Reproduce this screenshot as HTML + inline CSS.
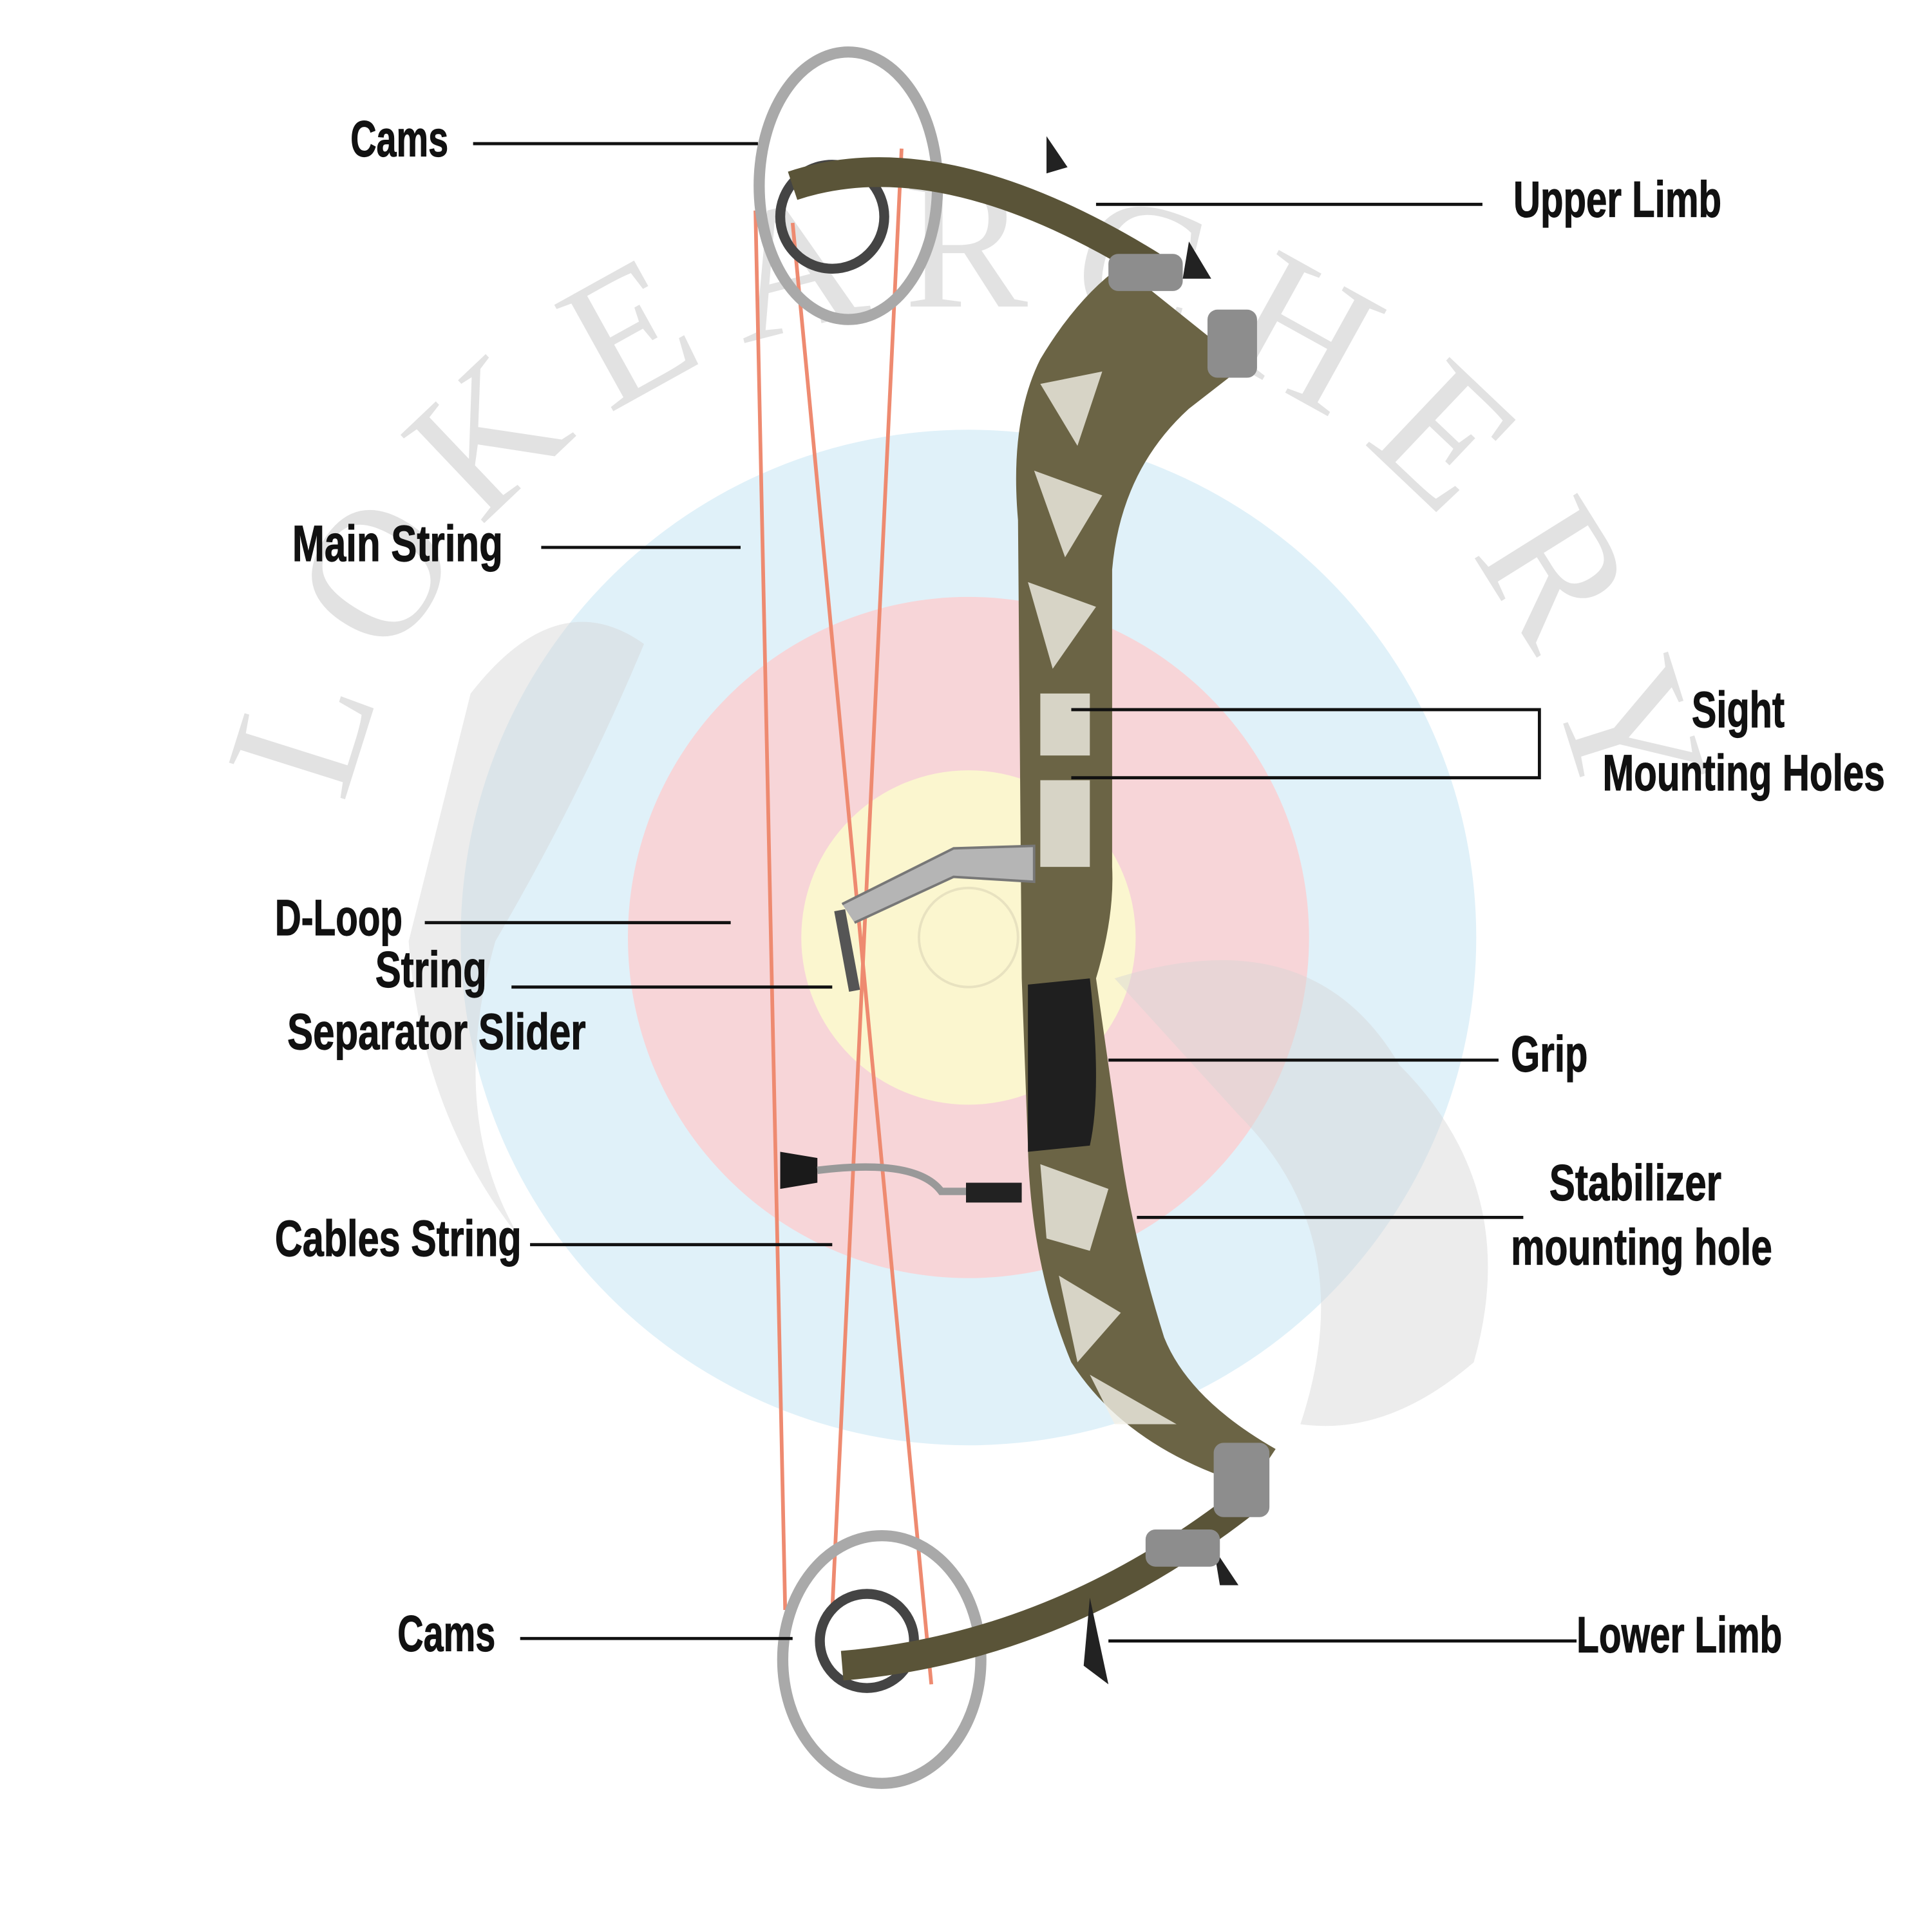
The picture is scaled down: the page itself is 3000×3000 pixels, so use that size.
<!DOCTYPE html>
<html><head><meta charset="utf-8"><style>
html,body{margin:0;padding:0;background:#fff;}
svg{display:block;}
.l{font-family:"Liberation Sans Narrow","Liberation Sans",sans-serif;font-weight:bold;font-size:41px;fill:#111;stroke:#111;stroke-width:0.6;}
.w{font-family:"Liberation Serif",serif;font-size:150px;fill:#dcdcdc;opacity:0.8;text-anchor:middle;}
</style></head><body>
<svg width="3000" height="3000" viewBox="0 0 1560 1560" xmlns="http://www.w3.org/2000/svg">
<rect width="1560" height="1560" fill="#fff"/>
<!-- target -->
<circle cx="782" cy="757" r="410" fill="#e0f1f9"/>
<circle cx="782" cy="757" r="275" fill="#f7d5d8"/>
<circle cx="782" cy="757" r="135" fill="#fbf6cf"/>
<circle cx="782" cy="757" r="40" fill="none" stroke="#e8e2c0" stroke-width="2"/>
<!-- watermark -->
<g class="w">
<text transform="translate(241,590) rotate(-72.5)" dy="0.35em">L</text>
<text transform="translate(301,461) rotate(-58)" dy="0.35em">O</text>
<text transform="translate(391,350) rotate(-43.5)" dy="0.35em">K</text>
<text transform="translate(506,266) rotate(-29)" dy="0.35em">E</text>
<text transform="translate(639,213) rotate(-14.5)" dy="0.35em">A</text>
<text transform="translate(780,195)" dy="0.35em">R</text>
<text transform="translate(921,213) rotate(14.5)" dy="0.35em">C</text>
<text transform="translate(1054,266) rotate(29)" dy="0.35em">H</text>
<text transform="translate(1169,350) rotate(43.5)" dy="0.35em">E</text>
<text transform="translate(1259,461) rotate(58)" dy="0.35em">R</text>
<text transform="translate(1319,590) rotate(72.5)" dy="0.35em">Y</text>
</g>
<path d="M380,560 Q450,470 520,520 Q470,640 400,760 Q360,900 420,1000 Q340,900 330,760Z" fill="#d4d4d4" opacity="0.45"/>
<path d="M900,790 Q1060,740 1130,860 Q1230,960 1190,1100 Q1120,1160 1050,1150 Q1100,1000 1000,900Z" fill="#d4d4d4" opacity="0.45"/>
<!-- strings -->
<g stroke="#ee8a70" stroke-width="3" fill="none">
<line x1="610" y1="170" x2="634" y2="1300"/>
<line x1="640" y1="180" x2="752" y2="1360"/>
<line x1="728" y1="120" x2="672" y2="1300"/>
</g>
<!-- cams -->
<ellipse cx="685" cy="150" rx="72" ry="108" fill="none" stroke="#a9a9a9" stroke-width="9"/>
<circle cx="672" cy="175" r="42" fill="none" stroke="#444" stroke-width="8"/>
<ellipse cx="712" cy="1340" rx="80" ry="100" fill="none" stroke="#a9a9a9" stroke-width="9"/>
<circle cx="700" cy="1325" r="38" fill="none" stroke="#444" stroke-width="8"/>
<!-- limbs -->
<path d="M640,150 Q760,110 930,215" fill="none" stroke="#5a5438" stroke-width="24"/>
<path d="M680,1345 Q860,1330 1015,1205" fill="none" stroke="#5a5438" stroke-width="24"/>
<path d="M845,110 L862,135 L845,140Z M960,195 L978,225 L955,225Z M880,1290 L895,1360 L875,1345Z M980,1250 L1000,1280 L985,1280Z" fill="#222"/>
<!-- riser -->
<path d="M905,215 Q870,240 840,290 Q815,340 822,420 L825,790 L830,925 Q832,1020 865,1100 Q910,1170 1010,1200 L1030,1170 Q960,1130 940,1080 Q915,1000 905,930 L895,860 L885,790 Q900,740 898,700 L898,460 Q905,380 960,330 L1005,295 Z" fill="#6b6445"/>
<path d="M840,310 L890,300 L870,360Z M835,380 L890,400 L860,450Z M830,470 L885,490 L850,540Z M840,560 L880,560 L880,610 L840,610Z M840,630 L880,630 L880,700 L840,700Z M840,940 L895,960 L880,1010 L845,1000Z M855,1030 L905,1060 L870,1100Z M880,1110 L950,1150 L900,1150Z" fill="#f3f0e6" opacity="0.8"/>
<path d="M830,795 L880,790 Q890,880 880,925 L830,930Z" fill="#1f1f1f"/>
<rect x="895" y="205" width="60" height="30" rx="8" fill="#8d8d8d"/>
<rect x="975" y="250" width="40" height="55" rx="8" fill="#8d8d8d"/>
<rect x="980" y="1165" width="45" height="60" rx="8" fill="#8d8d8d"/>
<rect x="925" y="1235" width="60" height="30" rx="8" fill="#8d8d8d"/>
<!-- arrow rest / stabilizer -->
<path d="M680,730 L770,685 L835,683 L835,712 L770,708 L690,745" fill="#b5b5b5" stroke="#777" stroke-width="2"/>
<line x1="678" y1="735" x2="690" y2="800" stroke="#555" stroke-width="9"/>
<path d="M630,930 L660,935 L660,955 L630,960Z" fill="#1a1a1a"/>
<path d="M660,945 Q740,935 760,962 L825,962" fill="none" stroke="#999" stroke-width="6"/>
<rect x="780" y="955" width="45" height="16" fill="#222"/>
<!-- leader lines -->
<g stroke="#111" stroke-width="2.5" fill="none">
<line x1="382" y1="116" x2="612" y2="116"/>
<line x1="885" y1="165" x2="1197" y2="165"/>
<line x1="437" y1="442" x2="598" y2="442"/>
<polyline points="865,573 1243,573 1243,628 865,628"/>
<line x1="343" y1="745" x2="590" y2="745"/>
<line x1="413" y1="797" x2="672" y2="797"/>
<line x1="895" y1="856" x2="1210" y2="856"/>
<line x1="918" y1="983" x2="1230" y2="983"/>
<line x1="428" y1="1005" x2="672" y2="1005"/>
<line x1="420" y1="1323" x2="640" y2="1323"/>
<line x1="895" y1="1325" x2="1273" y2="1325"/>
</g>
<!-- labels -->
<text class="l" x="283" y="126" textLength="79" lengthAdjust="spacingAndGlyphs">Cams</text>
<text class="l" x="1222" y="175" textLength="168" lengthAdjust="spacingAndGlyphs">Upper Limb</text>
<text class="l" x="236" y="453" textLength="170" lengthAdjust="spacingAndGlyphs">Main String</text>
<text class="l" x="1366" y="587" textLength="75" lengthAdjust="spacingAndGlyphs">Sight</text>
<text class="l" x="1294" y="638" textLength="228" lengthAdjust="spacingAndGlyphs">Mounting Holes</text>
<text class="l" x="222" y="755" textLength="103" lengthAdjust="spacingAndGlyphs">D-Loop</text>
<text class="l" x="303" y="797" textLength="90" lengthAdjust="spacingAndGlyphs">String</text>
<text class="l" x="232" y="847" textLength="241" lengthAdjust="spacingAndGlyphs">Separator Slider</text>
<text class="l" x="1220" y="865" textLength="62" lengthAdjust="spacingAndGlyphs">Grip</text>
<text class="l" x="1251" y="969" textLength="139" lengthAdjust="spacingAndGlyphs">Stabilizer</text>
<text class="l" x="1220" y="1021" textLength="211" lengthAdjust="spacingAndGlyphs">mounting hole</text>
<text class="l" x="222" y="1014" textLength="199" lengthAdjust="spacingAndGlyphs">Cables String</text>
<text class="l" x="321" y="1333" textLength="79" lengthAdjust="spacingAndGlyphs">Cams</text>
<text class="l" x="1273" y="1334" textLength="166" lengthAdjust="spacingAndGlyphs">Lower Limb</text>
</svg>
</body></html>
